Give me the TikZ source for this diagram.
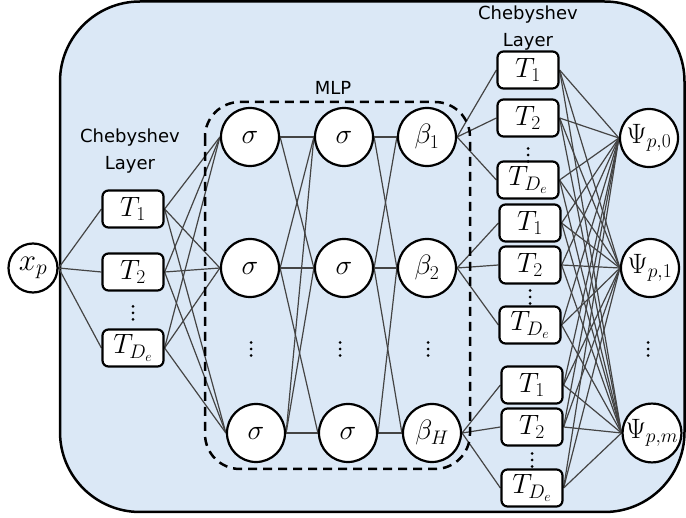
\RequirePackage{fix-cm}
\documentclass[tikz,border=0pt]{standalone}
\usepackage{fontspec}
\newfontfamily\labelfont{DejaVu Sans}
\definecolor{bgblue}{RGB}{219,232,246}
\definecolor{linkgray}{RGB}{68,68,68}
\pgfdeclarelayer{bg}
\pgfdeclarelayer{lnk}
\pgfsetlayers{bg,lnk,main}
\tikzset{
  neuron/.style={circle, draw=black, line width=2.2pt, fill=white, minimum size=58pt, inner sep=0pt, font=\fontsize{28}{32}\selectfont},
  tbox/.style={rectangle, rounded corners=6pt, draw=black, line width=2.2pt, fill=white, minimum width=61pt, minimum height=37pt, inner sep=0pt, font=\fontsize{28}{32}\selectfont},
  link/.style={draw=linkgray, line width=1.2pt},
  lbl/.style={font=\labelfont\fontsize{18}{27}\selectfont, align=center, text=black},
  vdts/.pic={\foreach \d in {-6.5,0,6.5} \fill (0,\d) circle (1.5pt);}
}
\begin{document}
\begin{tikzpicture}[x=1pt,y=-1pt]
\useasboundingbox (0,0) rectangle (686,518);
\begin{pgfonlayer}{bg}
  \draw[fill=bgblue, line width=2.5pt, rounded corners=80pt] (60,1.5) rectangle (684.5,512);
\end{pgfonlayer}

% input
\node[neuron, minimum size=49pt, font=\fontsize{31}{34}\selectfont] (xp) at (33,268) {$x_p$};

% left Chebyshev layer
\node[lbl] (chebL) at (130,151) {Chebyshev\\Layer};
\node[tbox] (L1) at (133,209) {$T_1$};
\node[tbox] (L2) at (133,272) {$T_2$};
\node[tbox] (L3) at (133,348) {$T_{D_e}$};
\pic at (133,313) {vdts};

% MLP
\node[lbl] (mlp) at (333,88) {MLP};
\node[neuron] (s11) at (250,137) {$\sigma$};
\node[neuron] (s12) at (250,268) {$\sigma$};
\node[neuron] (s13) at (256,433) {$\sigma$};
\node[neuron] (s21) at (344,137) {$\sigma$};
\node[neuron] (s22) at (344,268) {$\sigma$};
\node[neuron] (s23) at (348,433) {$\sigma$};
\node[neuron] (b1) at (427,137) {$\beta_1$};
\node[neuron] (b2) at (427,268) {$\beta_2$};
\node[neuron] (b3) at (432,433) {$\beta_H$};
\pic at (251,349) {vdts};
\pic at (340,349) {vdts};
\pic at (428,349) {vdts};

% right Chebyshev layer
\node[lbl] (chebR) at (528,28) {Chebyshev\\Layer};
\node[tbox] (R11) at (528,70) {$T_1$};
\node[tbox] (R12) at (528,118) {$T_2$};
\node[tbox] (R13) at (528,180) {$T_{D_e}$};
\pic at (528,155) {vdts};
\node[tbox] (R21) at (530,223) {$T_1$};
\node[tbox] (R22) at (530,265) {$T_2$};
\node[tbox] (R23) at (530,325) {$T_{D_e}$};
\pic at (530,297) {vdts};
\node[tbox] (R31) at (532,385) {$T_1$};
\node[tbox] (R32) at (532,427) {$T_2$};
\node[tbox] (R33) at (532,488) {$T_{D_e}$};
\pic at (532,460) {vdts};

% outputs
\node[neuron] (P0) at (649,138) {$\Psi_{p,0}$};
\node[neuron] (P1) at (650,268) {$\Psi_{p,1}$};
\node[neuron] (P2) at (652,433) {$\Psi_{p,m}$};
\pic at (648,349) {vdts};

\begin{pgfonlayer}{lnk}
  \foreach \i in {1,2,3} \draw[link] (xp.east) -- (L\i.west);
  \foreach \i in {1,2,3} \foreach \j in {1,2,3} \draw[link] (L\i.east) -- (s1\j.west);
  \foreach \a/\b in {1/1,1/2,2/1,2/2,2/3,3/1,3/2,3/3} \draw[link] (s1\a.east) -- (s2\b.west);
  \foreach \a/\b in {1/1,1/2,2/1,2/2,2/3,3/2,3/3} \draw[link] (s2\a.east) -- (b\b.west);
  \foreach \k in {1,2,3} \foreach \i in {1,2,3} \draw[link] (b\k.east) -- (R\k\i.west);
  \foreach \k in {1,2,3} \foreach \i in {1,2,3} \foreach \p in {0,1,2} \draw[link] (R\k\i.east) -- (P\p.west);
  \draw[line width=2.5pt, dash pattern=on 9pt off 6pt, rounded corners=35pt] (205,102) rectangle (470,469);
\end{pgfonlayer}
\end{tikzpicture}
\end{document}
